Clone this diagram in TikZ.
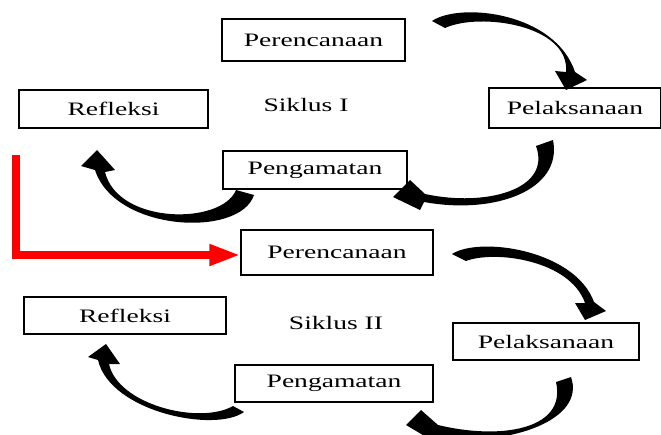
\documentclass[tikz,border=0pt]{standalone}
\usepackage{fontspec}
\newfontfamily\lblfont{Liberation Serif}[FakeStretch=1.45]
\usetikzlibrary{arrows.meta}
\tikzset{
  lbl/.style={font=\lblfont\fontsize{19}{22}\selectfont, inner sep=0pt},
  box/.style={lbl, draw=black, line width=1.4pt, fill=white},
  curvearrow/.style={fill=black, draw=none},
  redarrow/.style={draw=red, line width=7.5pt, line join=miter, -{Triangle[length=31pt,width=20pt]}}
}
\begin{document}
\begin{tikzpicture}[x=1pt,y=-1pt]
\useasboundingbox (0,0) rectangle (661,434);
% Cycle I
\node[box, minimum width=183pt, minimum height=42pt] (per1) at (313.5,40) {Perencanaan};
\node[box, minimum width=189pt, minimum height=38pt] (ref1) at (113.5,109) {Refleksi};
\node[lbl] (sik1) at (306,105) {Siklus I};
\node[box, minimum width=172pt, minimum height=40pt] (pel1) at (575,108) {Pelaksanaan};
\node[box, minimum width=184pt, minimum height=38pt] (pen1) at (315,170) {Pengamatan};
% Cycle II
\node[box, minimum width=192pt, minimum height=45pt] (per2) at (337,252.5) {Perencanaan};
\node[box, minimum width=202pt, minimum height=37pt] (ref2) at (125,315.5) {Refleksi};
\node[lbl] (sik2) at (336,323) {Siklus II};
\node[box, minimum width=186pt, minimum height=37pt] (pel2) at (546,341.5) {Pelaksanaan};
\node[box, minimum width=198pt, minimum height=37pt] (pen2) at (334,383.5) {Pengamatan};
% curved arrows, cycle I
\fill[curvearrow] (432,21) .. controls (460,2) and (555,12) .. (575,72)
  -- (587,80) -- (566,90) -- (555,71) -- (566,72)
  .. controls (570,25) and (480,12) .. (445,28) -- cycle;
\fill[curvearrow] (553,140) .. controls (563,190) and (495,215) .. (424,202)
  -- (420,210) -- (393,197) -- (410,180) -- (425,194)
  .. controls (485,207) and (552,190) .. (536,146) -- cycle;
\fill[curvearrow] (254,195) .. controls (240,238) and (115,232) .. (95,170)
  -- (81,166) -- (97,150) -- (115,170) -- (105,172)
  .. controls (118,225) and (222,225) .. (236,190) -- cycle;
% curved arrows, cycle II
\fill[curvearrow] (452,254) .. controls (480,236) and (575,250) .. (594,302)
  -- (606,311) -- (585,320) -- (575,303) -- (585,303)
  .. controls (570,260) and (495,250) .. (466,261) -- cycle;
\fill[curvearrow] (571,377) .. controls (586,420) and (510,446) .. (441,438)
  -- (438,444) -- (406,425) -- (421,410) -- (438,425)
  .. controls (500,440) and (567,430) .. (556,382) -- cycle;
\fill[curvearrow] (244,412) .. controls (215,433) and (110,412) .. (98,360)
  -- (88,357) -- (106,344) -- (120,364) -- (109,364)
  .. controls (118,405) and (200,425) .. (233,406) -- cycle;
% red connector between cycles
\coordinate (rs) at (16,155);
\coordinate (rc) at (16,255);
\draw[redarrow] (rs) -- (rc) -- (rc -| per2.west);
\end{tikzpicture}
\end{document}
